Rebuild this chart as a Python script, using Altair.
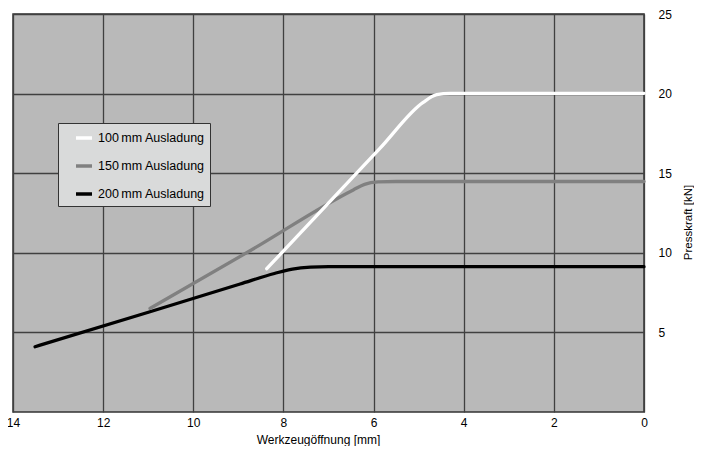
import altair as alt
import pandas as pd

# Series (Werkzeugöffnung [mm] -> Presskraft [kN])
labels = ["100\u2009mm Ausladung", "150\u2009mm Ausladung", "200\u2009mm Ausladung"]
colors = ["#ffffff", "#808080", "#000000"]

x_100 = [8.37, 5.86, 4.9, 4.6, 4.3, 0.0]
y_100 = [9.0, 16.56, 19.45, 19.93, 20.02, 20.02]

x_150 = [10.96, 8.74, 6.45, 6.2, 5.9, 5.5, 0.0]
y_150 = [6.51, 10.13, 13.95, 14.3, 14.45, 14.48, 14.48]

x_200 = [13.51, 10.96, 8.96, 8.2, 7.8, 7.4, 7.0, 0.0]
y_200 = [4.10, 6.3, 8.04, 8.7, 8.98, 9.1, 9.13, 9.13]

x_ticks = [0, 2, 4, 6, 8, 10, 12, 14]
y_ticks = [5, 10, 15, 20, 25]

rows = []
for order, (lab, xs, ys) in enumerate([(labels[2], x_200, y_200),
                                       (labels[1], x_150, y_150),
                                       (labels[0], x_100, y_100)]):
    for i, (xv, yv) in enumerate(zip(xs, ys)):
        rows.append({"serie": lab, "x": xv, "y": yv, "i": i, "o": order})
df = pd.DataFrame(rows)

font = "Liberation Sans"

chart = alt.Chart(df).mark_line(
    strokeWidth=3.3, interpolate="monotone", strokeCap="round", strokeJoin="round"
).encode(
    x=alt.X("x:Q",
            scale=alt.Scale(domain=[14, 0], nice=False, zero=False),
            axis=alt.Axis(values=x_ticks, title="Werkzeugöffnung [mm]",
                          domain=False, ticks=False, labelPadding=5, labelFlush=False,
                          labelFontSize=12, labelFont=font, labelColor="#000",
                          gridColor="#404040", gridWidth=1.3,
                          titleFont=font, titleFontSize=12, titleFontWeight="normal",
                          titleColor="#000", titleX=305, titleY=27,
                          titleBaseline="middle", titleAlign="center")),
    y=alt.Y("y:Q",
            scale=alt.Scale(domain=[0, 25], nice=False),
            axis=alt.Axis(orient="right", values=y_ticks, title="Presskraft [kN]",
                          domain=False, ticks=False, labelPadding=14, labelFlush=False,
                          labelFontSize=12, labelFont=font, labelColor="#000",
                          gridColor="#404040", gridWidth=1.3,
                          titleFont=font, titleFontSize=11.5, titleFontWeight="normal",
                          titleColor="#000", titleAngle=270, titleX=44, titleY=208,
                          titleBaseline="middle", titleAlign="center")),
    color=alt.Color("serie:N",
                    scale=alt.Scale(domain=labels, range=colors),
                    legend=alt.Legend(title=None, orient="none", legendX=45, legendY=109,
                                      fillColor="#d9dada", strokeColor="#333333",
                                      padding=5, symbolType="stroke",
                                      symbolSize=256, symbolStrokeWidth=3.5,
                                      symbolOffset=11, labelOffset=4, rowPadding=11,
                                      labelFont=font, labelFontSize=12.5,
                                      labelColor="#000")),
    order=alt.Order("i:Q"),
    detail="o:N",
).properties(
    width=631, height=398,
    autosize=alt.AutoSizeParams(type="none"),
    padding={"left": 5, "top": 6, "right": 50, "bottom": 34},
    background="white",
).configure_view(
    fill="#b9b9b9", stroke="#333333", strokeWidth=1.5
)

chart.save("out.html", embed_options={"renderer": "svg", "actions": False})
